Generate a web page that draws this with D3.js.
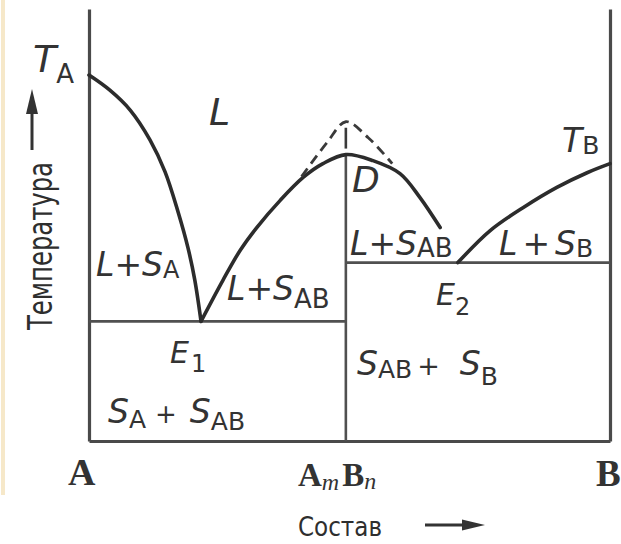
<!DOCTYPE html>
<html>
<head>
<meta charset="utf-8">
<script src="https://cdn.jsdelivr.net/npm/d3@7"></script>
<style>
  html, body { margin: 0; padding: 0; background: #fff; }
  svg { display: block; }
</style>
</head>
<body>
<svg id="chart" width="621" height="544"></svg>
<script>
// Phase diagram of a binary A–B system with a congruently melting compound AmBn.
// Composition in % B, temperature in relative units.

// Liquidus T_A -> E1 (crystallisation of A)
const liquidusAComp = [0, 4.0, 7.9, 11.7, 14.6, 17.1, 19.0, 20.3, 21.5];
const liquidusATemp = [84.7, 81.2, 76.6, 69.7, 62.3, 53.0, 44.7, 37.3, 27.7];

// Liquidus of the compound AmBn: E1 -> D (maximum) -> towards E2
const liquidusABComp = [21.5, 25.7, 29.0, 32.2, 36.7, 41.1, 44.9, 49.3, 54.5, 59.7, 63.5, 67.4];
const liquidusABTemp = [27.7, 37.2, 44.1, 49.4, 55.7, 61.0, 64.2, 66.3, 64.9, 61.9, 56.4, 49.4];

// Liquidus E2 -> T_B (crystallisation of B)
const liquidusBComp = [70.8, 77.0, 83.3, 89.8, 95.6, 100];
const liquidusBTemp = [41.3, 48.7, 54.0, 58.7, 62.1, 64.2];

// Hidden (metastable) maximum above D
const hiddenComp = [40.8, 45.7, 49.3, 53.6, 58.2];
const hiddenTemp = [61.2, 69.1, 73.9, 70.2, 64.2];

// Key compositions and temperatures
const compoundComp = 49.3;     // AmBn
const eutectic1Temp = 27.7;    // E1
const eutectic2Temp = 41.3;    // E2
const meltD = 66.3;            // D
const hiddenMax = 73.9;

// Text of the labels
const fieldLabels = {
  L: "L",
  LSA: ["L+S", "A"],
  LSAB1: ["L+S", "AB"],
  LSAB2: ["L+S", "AB"],
  LSB: ["L", "+", "S", "B"],
  SASAB: ["S", "A", "+", "S", "AB"],
  SABSB: ["S", "AB", "+", "S", "B"],
  E1: ["E", "1"],
  E2: ["E", "2"],
  D: "D",
  TA: ["T", "A"],
  TB: ["T", "B"]
};
const compLabels = ["A", ["A", "m", "B", "n"], "B"];
const axisTitleX = "Состав";
const axisTitleY = "Температура";

const svg = d3.select("#chart");
const ink = "#333";
const lineInk = "#4a4a4a";

const x = d3.scaleLinear().domain([0, 100]).range([89, 610]);
const y = d3.scaleLinear().domain([0, 100]).range([441, 9]);

// faint edge of the page on the left
svg.append("rect").attr("x", 1).attr("y", 0).attr("width", 4).attr("height", 495)
  .attr("fill", "#f6e8c9");

// frame: composition and temperature axes without ticks
const axisStyle = g => g.select(".domain").attr("stroke", lineInk).attr("stroke-width", 3.2);
svg.append("g").attr("transform", `translate(0,${y(0)})`)
  .call(d3.axisBottom(x).tickValues([]).tickSizeOuter(0)).call(axisStyle);
svg.append("g").attr("transform", `translate(${x(0)},0)`)
  .call(d3.axisLeft(y).tickValues([]).tickSizeOuter(0)).call(axisStyle);
svg.append("g").attr("transform", `translate(${x(100)},0)`)
  .call(d3.axisRight(y).tickValues([]).tickSizeOuter(0)).call(axisStyle);

// solidus lines and the compound line
const thin = sel => sel.attr("stroke", "#505050").attr("stroke-width", 2.6).attr("fill", "none");
svg.append("line").attr("x1", x(0)).attr("x2", x(compoundComp))
  .attr("y1", y(eutectic1Temp)).attr("y2", y(eutectic1Temp)).call(thin);
svg.append("line").attr("x1", x(compoundComp)).attr("x2", x(100))
  .attr("y1", y(eutectic2Temp)).attr("y2", y(eutectic2Temp)).call(thin);
svg.append("line").attr("x1", x(compoundComp)).attr("x2", x(compoundComp))
  .attr("y1", y(0)).attr("y2", y(meltD)).call(thin);

// liquidus curves
const line = d3.line().x(d => x(d[0])).y(d => y(d[1])).curve(d3.curveCatmullRom.alpha(0.5));
const curve = (c, t) => d3.zip(c, t);
[[liquidusAComp, liquidusATemp], [liquidusABComp, liquidusABTemp], [liquidusBComp, liquidusBTemp]]
  .forEach(([c, t]) => {
    svg.append("path").attr("d", line(curve(c, t)))
      .attr("fill", "none").attr("stroke", "#2c2c2c").attr("stroke-width", 3.6)
      .attr("stroke-linecap", "round");
  });

// hidden maximum, dashed
svg.append("path").attr("d", line(curve(hiddenComp, hiddenTemp)))
  .attr("fill", "none").attr("stroke", "#3a3a3a").attr("stroke-width", 2.8)
  .attr("stroke-dasharray", "10,6");
svg.append("line").attr("x1", x(compoundComp)).attr("x2", x(compoundComp))
  .attr("y1", y(meltD) - 6).attr("y2", y(hiddenMax) + 6)
  .attr("stroke", "#3a3a3a").attr("stroke-width", 2.6);

// rich text helper: parts = [{t, size, it, dy, dx, w}]
function rich(px, py, parts, family) {
  const t = svg.append("text").attr("x", px).attr("y", py)
    .attr("fill", ink).attr("font-family", family || "DejaVu Sans");
  parts.forEach(p => {
    const s = t.append("tspan").text(p.t).attr("font-size", p.size)
      .attr("font-style", p.it ? "italic" : "normal");
    if (p.dy) s.attr("dy", p.dy);
    if (p.dx) s.attr("dx", p.dx);
    if (p.w) s.attr("font-weight", p.w);
  });
  return t;
}

// field labels
rich(33, 72, [{t: fieldLabels.TA[0], size: 38, it: true}, {t: fieldLabels.TA[1], size: 26, dy: 11}]);
rich(209, 125, [{t: fieldLabels.L, size: 38, it: true}]);
rich(562, 152, [{t: fieldLabels.TB[0], size: 33, it: true}, {t: fieldLabels.TB[1], size: 25, dy: 2}]);
rich(352, 192, [{t: fieldLabels.D, size: 36, it: true}]);
rich(350, 255, [{t: fieldLabels.LSAB2[0], size: 33, it: true}, {t: fieldLabels.LSAB2[1], size: 26, dy: 2}]);
rich(499, 255, [
  {t: fieldLabels.LSB[0], size: 33, it: true},
  {t: fieldLabels.LSB[1], size: 33, dx: 5},
  {t: fieldLabels.LSB[2], size: 33, it: true, dx: 5},
  {t: fieldLabels.LSB[3], size: 25, dy: 2}
]);
rich(96, 276, [{t: fieldLabels.LSA[0], size: 33, it: true}, {t: fieldLabels.LSA[1], size: 24, dy: 2}]);
rich(227, 300, [{t: fieldLabels.LSAB1[0], size: 33, it: true}, {t: fieldLabels.LSAB1[1], size: 26, dy: 8}]);
rich(170, 363, [{t: fieldLabels.E1[0], size: 30, it: true}, {t: fieldLabels.E1[1], size: 24, dy: 9, dx: 2}]);
rich(436, 305, [{t: fieldLabels.E2[0], size: 30, it: true}, {t: fieldLabels.E2[1], size: 24, dy: 10}]);
rich(357, 375, [
  {t: fieldLabels.SABSB[0], size: 33, it: true},
  {t: fieldLabels.SABSB[1], size: 25, dy: 3},
  {t: fieldLabels.SABSB[2], size: 27, dy: -3, dx: 5},
  {t: fieldLabels.SABSB[3], size: 33, it: true, dx: 20},
  {t: fieldLabels.SABSB[4], size: 25, dy: 10}
]);
rich(108, 423, [
  {t: fieldLabels.SASAB[0], size: 33, it: true},
  {t: fieldLabels.SASAB[1], size: 25, dy: 5},
  {t: fieldLabels.SASAB[2], size: 26, dy: -5, dx: 9},
  {t: fieldLabels.SASAB[3], size: 33, it: true, dx: 13},
  {t: fieldLabels.SASAB[4], size: 25, dy: 7}
]);

// composition labels under the axis
const serif = "Liberation Serif";
rich(68, 485, [{t: compLabels[0], size: 38, w: 700}], serif);
rich(298, 486, [
  {t: compLabels[1][0], size: 33, w: 700},
  {t: compLabels[1][1], size: 24, it: true, dy: 4},
  {t: compLabels[1][2], size: 33, w: 700, dy: -4, dx: 3},
  {t: compLabels[1][3], size: 24, it: true, dy: 3}
], serif);
rich(596, 486, [{t: compLabels[2], size: 37, w: 700}], serif);

// axis titles with arrows
svg.append("text").attr("x", 298).attr("y", 536)
  .attr("font-family", "DejaVu Sans Condensed, DejaVu Sans").attr("font-size", 27)
  .attr("fill", "#2e2e2e").attr("textLength", 84).attr("lengthAdjust", "spacingAndGlyphs")
  .text(axisTitleX);
svg.append("text").attr("transform", "translate(52,330) rotate(-90)")
  .attr("font-family", "DejaVu Sans Condensed, DejaVu Sans").attr("font-size", 33)
  .attr("fill", "#2e2e2e").attr("textLength", 168).attr("lengthAdjust", "spacingAndGlyphs")
  .text(axisTitleY);

// arrows
svg.append("line").attr("x1", 425).attr("x2", 466).attr("y1", 525).attr("y2", 525)
  .attr("stroke", ink).attr("stroke-width", 3);
svg.append("path").attr("d", "M485,525 L462,519.5 L462,530.5 Z").attr("fill", ink);
svg.append("line").attr("x1", 32).attr("x2", 32).attr("y1", 150).attr("y2", 110)
  .attr("stroke", ink).attr("stroke-width", 3);
svg.append("path").attr("d", "M32,89 L26,114 L38,114 Z").attr("fill", ink);
</script>
</body>
</html>
